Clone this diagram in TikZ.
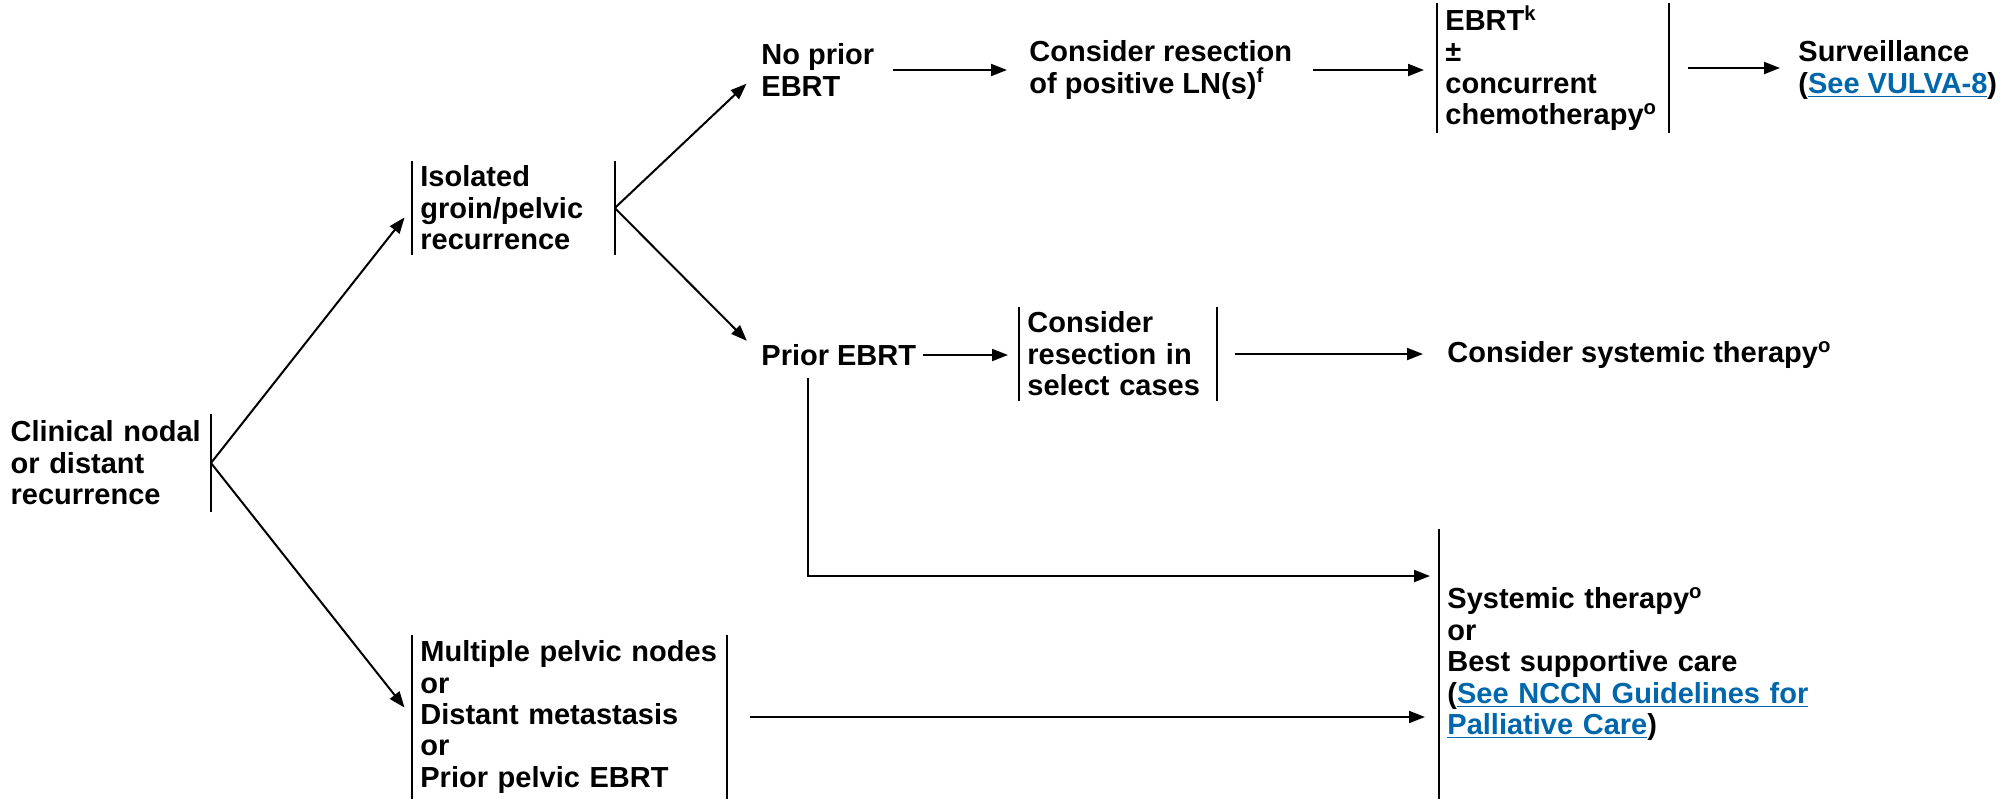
\documentclass[tikz,border=0pt]{standalone}
\usepackage{fontspec}
\setmainfont{Liberation Sans}
\usetikzlibrary{arrows.meta}
\definecolor{nccnblue}{HTML}{0067AC}
\newcommand{\lnk}[1]{\textcolor{nccnblue}{\underline{#1}}}
\hyphenpenalty=10000
\tikzset{
  txt/.style={align=left,inner xsep=0pt,inner ysep=1pt},
  brk/.style={align=left,inner xsep=4pt,inner ysep=1pt},
  bar/.style={line width=1pt},
  arr/.style={line width=1pt,-{Triangle[length=8pt,width=6pt]}}
}
\begin{document}
\begin{tikzpicture}
  [x=0.5pt,y=-0.5pt,every node/.style={font=\fontsize{14.5}{15.7}\selectfont\bfseries}]
  \useasboundingbox (0,0) rectangle (2015,799);

  \node[brk,anchor=east,text width=96pt,minimum height=49pt] (clin) at (211,463) {Clinical nodal\\or distant\\recurrence};
  \node[brk,anchor=west,text width=93pt,minimum height=46.5pt] (iso) at (412,208) {Isolated\\groin/pelvic\\recurrence};
  \node[brk,anchor=west,text width=149pt,minimum height=82pt] (multi) at (412,717) {Multiple pelvic nodes\\or\\Distant metastasis\\or\\Prior pelvic EBRT};

  \node[txt,anchor=west] (noprior) at (761,70) {No prior\\EBRT};
  \node[txt,anchor=west] (res1) at (1029,70) {Consider resection\\of positive LN(s)\textsuperscript{f}};
  \node[brk,anchor=west,text width=107.5pt,minimum height=62.5pt] (ebrt) at (1437,68) {EBRT\textsuperscript{k}\\±\\concurrent\\chemotherapy\textsuperscript{o}};
  \node[txt,anchor=west] (surv) at (1798,70) {Surveillance\\(\lnk{See VULVA-8})};

  \node[txt,anchor=west] (prior) at (761,355) {Prior EBRT};
  \node[brk,anchor=west,text width=90.5pt,minimum height=46.5pt] (res2) at (1019,354) {Consider\\resection in\\select cases};
  \node[txt,anchor=west] (syst1) at (1447,355) {Consider systemic therapy\textsuperscript{o}};

  \node[brk,anchor=west,text width=185pt,minimum height=135pt] (best) at (1439,664) {Systemic therapy\textsuperscript{o}\\or\\Best supportive care\\(\lnk{See NCCN Guidelines for}\\\lnk{Palliative Care})};

  % bars
  \foreach \n in {iso,ebrt,res2,multi}
    \draw[bar] (\n.north west) -- (\n.south west) (\n.north east) -- (\n.south east);
  \draw[bar] (clin.north east) -- (clin.south east);
  \draw[bar] (best.north west) -- (best.south west);

  % arrows
  \draw[arr,shorten >=6pt] (clin.east) -- (iso.west);
  \draw[arr,shorten >=6pt] (clin.east) -- (multi.west);
  \draw[arr,shorten >=10pt] (iso.east) -- (noprior.west);
  \draw[arr,shorten >=10pt] (iso.east) -- (prior.west);
  \draw[arr,shorten <=9pt,shorten >=11pt] (noprior.east) -- (noprior.east -| res1.west);
  \draw[arr,shorten <=10.5pt,shorten >=6.5pt] (res1.east) -- (res1.east -| ebrt.west);
  \draw[arr,shorten <=9.5pt,shorten >=9pt] (ebrt.east) -- (ebrt.east -| surv.west);
  \draw[arr,shorten <=3.5pt,shorten >=5.5pt] (prior.east) -- (prior.east -| res2.west);
  \draw[arr,shorten <=9pt,shorten >=12pt] (res2.east) -- (res2.east -| syst1.west);
  \draw[arr,shorten <=5pt,shorten >=4.5pt] ([xshift=23.5pt]prior.south west) |- ([yshift=44pt]best.west);
  \draw[arr,shorten <=11.5pt,shorten >=7pt] (multi.east) -- (multi.east -| best.west);

\end{tikzpicture}
\end{document}
